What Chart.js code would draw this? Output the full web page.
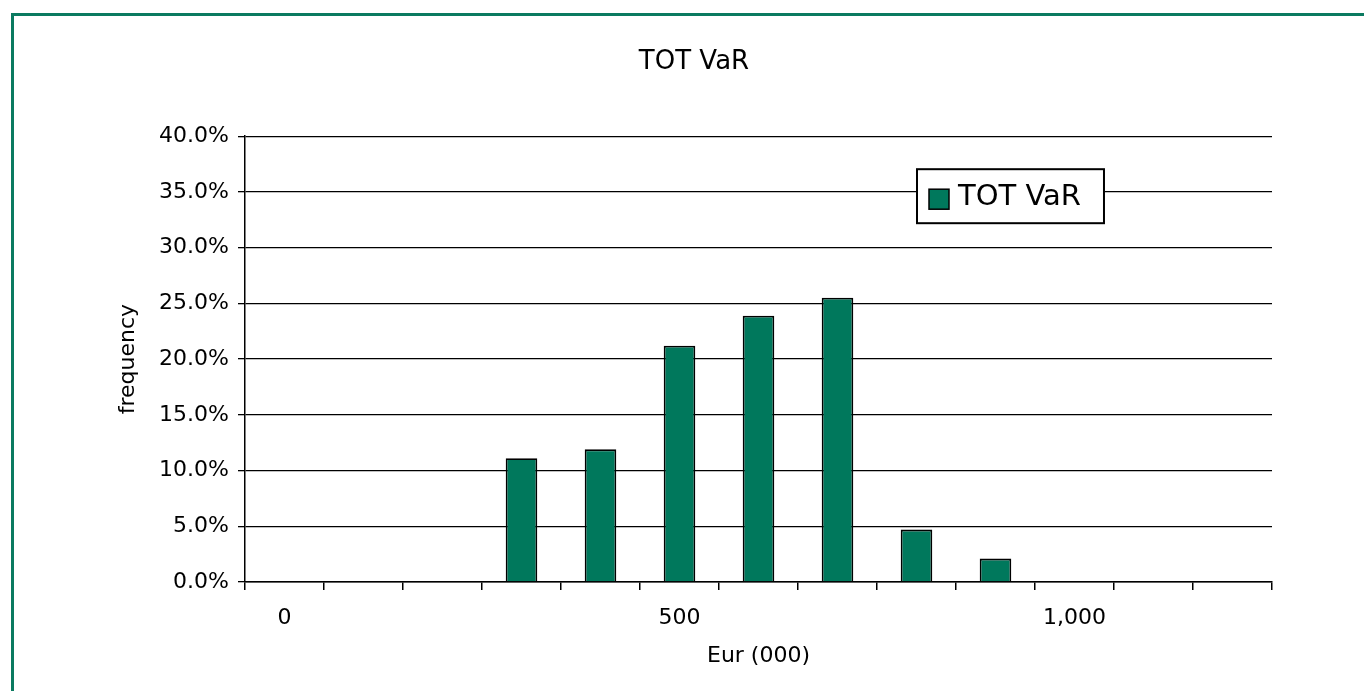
<!DOCTYPE html>
<html>
<head>
<meta charset="utf-8">
<title>TOT VaR</title>
<script src="https://cdn.jsdelivr.net/npm/chart.js@4/dist/chart.umd.min.js"></script>
<style>
  html, body { margin: 0; padding: 0; background: #fff; overflow: hidden; width: 1364px; height: 691px; }
  #frame { position: absolute; left: 11px; top: 13px; width: 1400px; height: 720px;
           border-left: 3px solid #0b7a60; border-top: 3px solid #0b7a60; }
  #wrap { position: absolute; left: 0; top: 0; width: 1364px; height: 691px; }
</style>
</head>
<body>
<div id="frame"></div>
<div id="wrap"><canvas id="chart"></canvas></div>
<script>
// Loss buckets in Eur (000) and the share of scenarios falling in each one (%)
const buckets = [0, 100, 200, 300, 400, 500, 600, 700, 800, 900, 1000, 1100, 1200];
const totVarFrequency = [0, 0, 0, 11.1, 11.9, 21.2, 23.9, 25.5, 4.7, 2.1, 0, 0, 0];
// Only these buckets carry a printed label on the x axis
const xTickLabels = { 0: '0', 500: '500', 1000: '1,000' };
const yMin = 0, yMax = 40, yStep = 5;

const FONT = 'DejaVu Sans';
const GREEN = '#00785c';

// Framed legend drawn inside the plot area, in the upper right
const boxLegend = {
  id: 'boxLegend',
  afterDraw(chart) {
    const { ctx, chartArea } = chart;
    const ds = chart.data.datasets[0];
    const left = chartArea.left + 672;
    const top = chartArea.top + 33;
    const h = 54;
    ctx.save();
    ctx.font = `29px "${FONT}"`;
    const tw = ctx.measureText(ds.label).width;
    const w = 42 + tw + 22;
    ctx.fillStyle = '#fff';
    ctx.fillRect(left, top, w, h);
    ctx.lineWidth = 2;
    ctx.strokeStyle = '#000';
    ctx.strokeRect(left, top, w, h);
    ctx.fillStyle = ds.backgroundColor;
    ctx.fillRect(left + 12, top + 20, 20, 20);
    ctx.lineWidth = 1.5;
    ctx.strokeRect(left + 12, top + 20, 20, 20);
    ctx.fillStyle = '#000';
    ctx.textBaseline = 'middle';
    ctx.textAlign = 'left';
    ctx.fillText(ds.label, left + 41, top + h / 2 + 1);
    ctx.restore();
  }
};

new Chart(document.getElementById('chart'), {
  type: 'bar',
  data: {
    labels: buckets,
    datasets: [{
      label: 'TOT VaR',
      data: totVarFrequency,
      backgroundColor: GREEN,
      borderColor: '#000',
      borderWidth: ctx => (ctx.raw === 0 ? 0 : 1.8),
      barPercentage: 0.4,
      categoryPercentage: 1.0
    }]
  },
  options: {
    responsive: true,
    maintainAspectRatio: false,
    animation: false,
    layout: { padding: { left: 116, right: 92, top: 0, bottom: 0 } },
    plugins: {
      legend: { display: false },
      tooltip: { enabled: false },
      title: {
        display: true,
        text: 'TOT VaR',
        color: '#000',
        font: { family: FONT, size: 26, weight: 'normal', lineHeight: 1.2 },
        padding: { top: 47, bottom: 58 }
      }
    },
    scales: {
      x: {
        offset: true,
        grid: { display: true, offset: true, drawOnChartArea: false, drawTicks: true,
                tickLength: 8, color: '#000', lineWidth: 1.5 },
        border: { display: true, color: '#000', width: 1.5 },
        ticks: {
          autoSkip: false, maxRotation: 0, color: '#000', padding: 15,
          font: { family: FONT, size: 22 },
          callback: (v, i) => xTickLabels[buckets[i]] ?? ''
        },
        title: {
          display: true, text: 'Eur (000)', color: '#000',
          font: { family: FONT, size: 22, lineHeight: 1.2 },
          padding: { top: 0, bottom: 22 }
        },
        afterFit(scale) { scale.height = 109; }
      },
      y: {
        min: yMin, max: yMax,
        grid: { color: '#000', lineWidth: 1.3, drawTicks: true, tickLength: 7 },
        border: { display: true, color: '#000', width: 1.5 },
        ticks: {
          stepSize: yStep, color: '#000', padding: 9,
          font: { family: FONT, size: 22 },
          callback: v => v.toFixed(1) + '%'
        },
        title: {
          display: true, text: 'frequency', color: '#000',
          font: { family: FONT, size: 22, lineHeight: 1.0 },
          padding: { top: 1, bottom: 0 }
        },
        afterFit(scale) { scale.width = 129; }
      }
    }
  },
  plugins: [boxLegend]
});
</script>
</body>
</html>
